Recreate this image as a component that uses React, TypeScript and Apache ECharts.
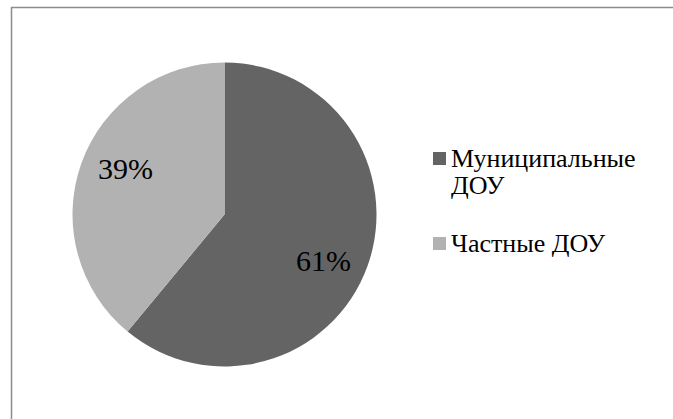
import React, { useEffect, useRef } from "react";
import * as echarts from "echarts";

const categories = ["Муниципальные ДОУ", "Частные ДОУ"];
const values = [61, 39];
const colors = ["#646464", "#b2b2b2"];

export default function App() {
  const ref = useRef<HTMLDivElement>(null);
  useEffect(() => {
    document.body.style.margin = "0";
    const chart = echarts.init(ref.current!, undefined, { renderer: "svg" });
    const font = "Liberation Serif";
    const data = categories.map((name, i) => ({
      name,
      value: values[i],
      itemStyle: { color: colors[i] },
    }));
    chart.setOption({
      animation: false,
      backgroundColor: "#ffffff",
      textStyle: { fontFamily: font },
      graphic: [
        {
          type: "line",
          shape: { x1: 11, y1: 7.5, x2: 673, y2: 7.5 },
          style: { stroke: "#8c8c8c", lineWidth: 1.5 },
          silent: true,
        },
        {
          type: "line",
          shape: { x1: 11.5, y1: 7, x2: 11.5, y2: 419 },
          style: { stroke: "#8c8c8c", lineWidth: 1.5 },
          silent: true,
        },
      ],
      legend: [
        {
          left: 433,
          top: 118,
          padding: 0,
          orient: "vertical",
          icon: "rect",
          itemWidth: 13,
          itemHeight: 13,
          selectedMode: false,
          formatter: (n: string) => "\n" + n.replace(" ", "\n"),
          textStyle: { fontFamily: font, fontSize: 26, lineHeight: 27, color: "#000" },
          data: [categories[0]],
        },
        {
          left: 433,
          top: 230,
          padding: 0,
          orient: "vertical",
          icon: "rect",
          itemWidth: 13,
          itemHeight: 13,
          selectedMode: false,
          textStyle: { fontFamily: font, fontSize: 26, lineHeight: 27, color: "#000" },
          data: [categories[1]],
        },
      ],
      series: [
        {
          type: "pie",
          center: [224.5, 214.5],
          radius: [0, 152],
          startAngle: 90,
          clockwise: true,
          label: { show: false },
          labelLine: { show: false },
          itemStyle: { borderWidth: 0 },
          emphasis: { disabled: true },
          silent: true,
          data,
        },
        {
          type: "pie",
          center: [224.5, 214.5],
          radius: [60, 152],
          startAngle: 85,
          clockwise: true,
          silent: true,
          emphasis: { disabled: true },
          itemStyle: { color: "rgba(0,0,0,0)", borderWidth: 0 },
          labelLine: { show: false },
          label: {
            show: true,
            position: "inside",
            formatter: "{c}%",
            fontFamily: font,
            fontSize: 30,
            color: "#000",
          },
          data: categories.map((name, i) => ({ name, value: values[i] })),
        },
      ],
    });
    return () => chart.dispose();
  }, []);
  return <div ref={ref} style={{ width: 673, height: 419 }} />;
}
